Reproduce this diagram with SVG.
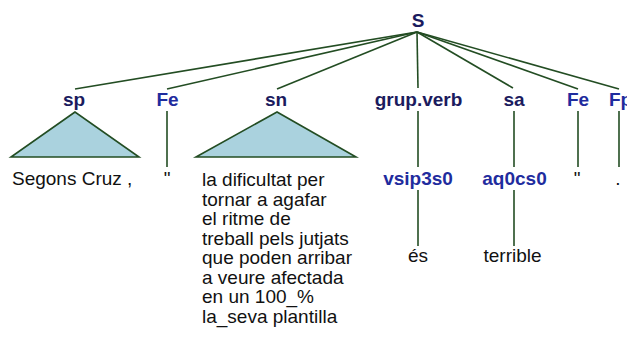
<svg xmlns="http://www.w3.org/2000/svg" width="627" height="344" viewBox="0 0 627 344">
<style>
.cat{font-family:"Liberation Sans",Arial,sans-serif;font-weight:bold;font-size:19px;fill:#1b1b5e;text-anchor:middle}
.tag{font-family:"Liberation Sans",Arial,sans-serif;font-weight:bold;font-size:19px;fill:#1f2c9e;text-anchor:middle}
.w{font-family:"Liberation Sans",Arial,sans-serif;font-size:19px;fill:#111}
.wc{text-anchor:middle}
.e{stroke:#234d23;stroke-width:1.6;fill:none}
.tri{fill:#aad2de;stroke:#234d23;stroke-width:1.6}
</style>
<rect width="627" height="344" fill="#fff"/>
<g id="connectors">
<line class="e" x1="417" y1="32" x2="75" y2="89"/>
<line class="e" x1="417" y1="32" x2="167" y2="89"/>
<line class="e" x1="417" y1="32" x2="277" y2="89"/>
<line class="e" x1="417" y1="32" x2="418" y2="88"/>
<line class="e" x1="417" y1="32" x2="513" y2="88"/>
<line class="e" x1="417" y1="32" x2="578" y2="89"/>
<line class="e" x1="417" y1="32" x2="619" y2="89"/>
<line class="e" x1="167" y1="111" x2="167" y2="167"/>
<line class="e" x1="418" y1="111" x2="418" y2="167"/>
<line class="e" x1="514" y1="111" x2="514" y2="167"/>
<line class="e" x1="578" y1="111" x2="578" y2="167"/>
<line class="e" x1="619" y1="111" x2="619" y2="167"/>
<line class="e" x1="418" y1="190" x2="418" y2="246"/>
<line class="e" x1="514" y1="190" x2="514" y2="246"/>
</g>
<g id="S"><text class="cat" x="418" y="27">S</text></g>
<g id="sp"><text class="cat" x="74" y="106">sp</text>
<polygon class="tri" points="75,112 11,157 139,157"/>
<text class="w" x="12" y="185">Segons Cruz ,</text></g>
<g id="Fe1"><text class="tag" x="167.5" y="106">Fe</text>
<text class="w wc" x="167" y="185">"</text></g>
<g id="sn"><text class="cat" x="276" y="106">sn</text>
<polygon class="tri" points="277,112 196,157 356,157"/>
<text class="w" x="202" y="186">la dificultat per</text>
<text class="w" x="202" y="205.5">tornar a agafar</text>
<text class="w" x="202" y="225">el ritme de</text>
<text class="w" x="202" y="244.5">treball pels jutjats</text>
<text class="w" x="202" y="264">que poden arribar</text>
<text class="w" x="202" y="283.5">a veure afectada</text>
<text class="w" x="202" y="303">en un 100_%</text>
<text class="w" x="202" y="322.5">la_seva plantilla</text></g>
<g id="grupverb"><text class="cat" x="418.5" y="106">grup.verb</text></g>
<g id="vsip3s0"><text class="tag" x="418" y="185">vsip3s0</text>
<text class="w wc" x="418" y="262">és</text></g>
<g id="sa"><text class="cat" x="514" y="106">sa</text></g>
<g id="aq0cs0"><text class="tag" x="514.5" y="185">aq0cs0</text>
<text class="w wc" x="512.5" y="262">terrible</text></g>
<g id="Fe2"><text class="tag" x="578" y="106">Fe</text>
<text class="w wc" x="577" y="185">"</text></g>
<g id="Fp"><text class="tag" x="620.5" y="106">Fp</text>
<text class="w wc" x="618" y="185">.</text></g>
</svg>
